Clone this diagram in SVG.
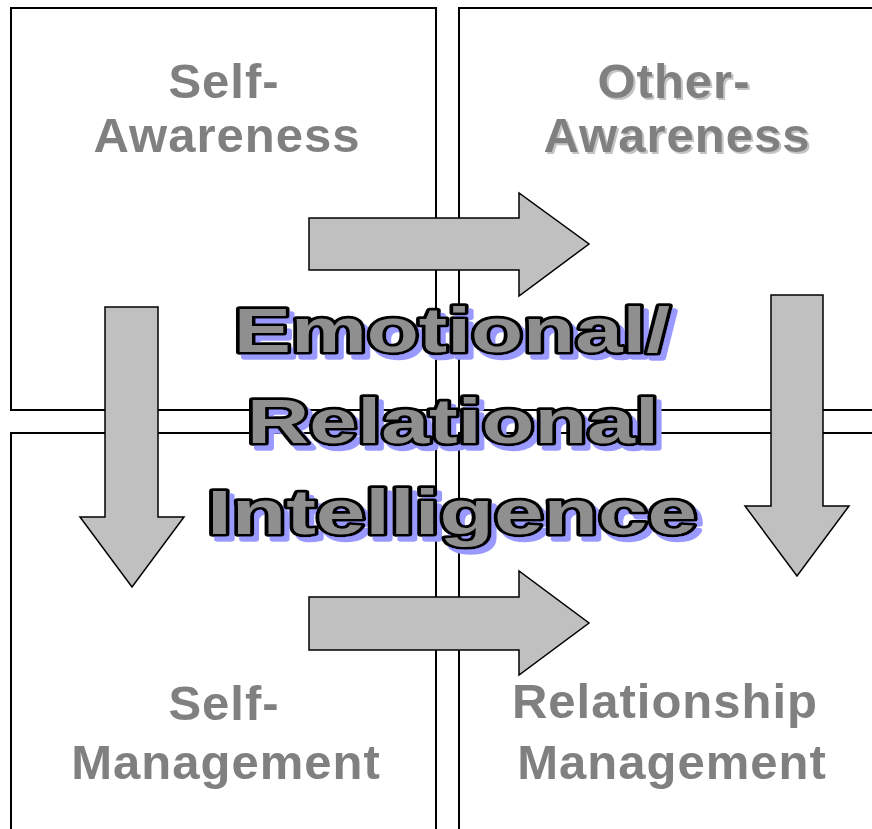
<svg xmlns="http://www.w3.org/2000/svg" width="872" height="829" viewBox="0 0 872 829">
<defs>
<filter id="blueShadow" x="-10%" y="-30%" width="125%" height="170%">
<feOffset in="SourceAlpha" dx="5" dy="5" result="o"/>
<feFlood flood-color="#9999ff"/>
<feComposite in2="o" operator="in" result="s"/>
<feMerge><feMergeNode in="s"/><feMergeNode in="SourceGraphic"/></feMerge>
</filter>
<filter id="greyShadow" x="-10%" y="-30%" width="125%" height="170%">
<feOffset in="SourceAlpha" dx="2" dy="2" result="o"/>
<feFlood flood-color="#c4c4c4"/>
<feComposite in2="o" operator="in" result="s"/>
<feMerge><feMergeNode in="s"/><feMergeNode in="SourceGraphic"/></feMerge>
</filter>
</defs>
<style>
.box{fill:#fff;stroke:#000;stroke-width:2}
.arrow{fill:#c0c0c0;stroke:#000;stroke-width:1.5;stroke-linejoin:miter}
.lbl{font-family:"Liberation Sans",Arial,sans-serif;font-weight:bold;font-size:49px;fill:#808080;text-anchor:middle;letter-spacing:1px}
.ctr{font-family:"Liberation Sans",Arial,sans-serif;font-weight:bold;font-size:63px;text-anchor:middle;fill:#8f8f8f;stroke:#000;stroke-width:5.5;stroke-linejoin:round;paint-order:stroke}
</style>
<rect width="872" height="829" fill="#fff"/>
<g id="self-awareness">
<rect class="box" x="11" y="8" width="425" height="402"/>
<text class="lbl" x="224" y="98">Self-</text>
<text class="lbl" x="227" y="152">Awareness</text>
</g>
<g id="other-awareness">
<rect class="box" x="459" y="8" width="480" height="402"/>
<g filter="url(#greyShadow)">
<text class="lbl" x="674" y="98">Other-</text>
<text class="lbl" x="677" y="152">Awareness</text>
</g>
</g>
<g id="self-management">
<rect class="box" x="11" y="433" width="425" height="480"/>
<text class="lbl" x="224" y="720">Self-</text>
<text class="lbl" x="226" y="779">Management</text>
</g>
<g id="relationship-management">
<rect class="box" x="459" y="433" width="480" height="480"/>
<text class="lbl" x="665" y="718">Relationship</text>
<text class="lbl" x="672" y="779">Management</text>
</g>
<g id="connectors">
<polygon class="arrow" points="309,218 519,218 519,193 589,244 519,296 519,270 309,270"/>
<polygon class="arrow" points="309,597 519,597 519,571 589,623 519,675 519,650 309,650"/>
<polygon class="arrow" points="105,307 158,307 158,517 184,517 132,587 80,517 105,517"/>
<polygon class="arrow" points="771,295 823,295 823,506 849,506 797,576 745,506 771,506"/>
</g>
<g id="center-title" filter="url(#blueShadow)">
<text class="ctr" x="452" y="352" textLength="436" lengthAdjust="spacingAndGlyphs">Emotional/</text>
<text class="ctr" x="453" y="443" textLength="412" lengthAdjust="spacingAndGlyphs">Relational</text>
<text class="ctr" x="452" y="534" textLength="490" lengthAdjust="spacingAndGlyphs">Intelligence</text>
</g>
</svg>
